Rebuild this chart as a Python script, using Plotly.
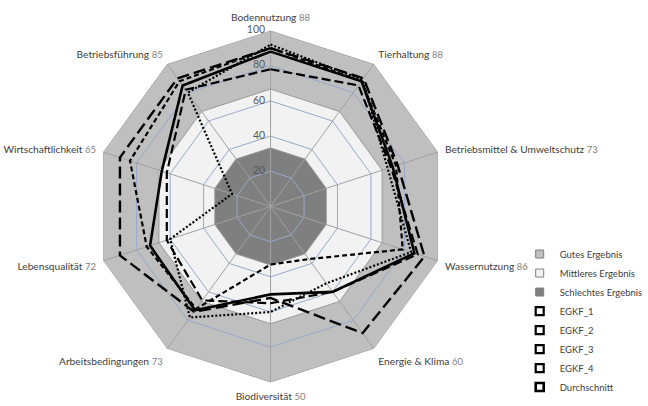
import plotly.graph_objects as go

categories = ["Bodennutzung", "Tierhaltung", "Betriebsmittel & Umweltschutz", "Wassernutzung",
              "Energie & Klima", "Biodiversität", "Arbeitsbedingungen", "Lebensqualität",
              "Wirtschaftlichkeit", "Betriebsführung"]
durchschnitt = [88, 88, 73, 86, 60, 50, 73, 72, 65, 85]
egkf_1 = [92, 89, 70, 84, 54, 60, 78, 60, 23, 80]
egkf_2 = [90, 88, 75, 79, 37, 33, 72, 74, 84, 88]
egkf_3 = [78, 85, 72, 88, 60, 55, 66, 62, 62, 82]
egkf_4 = [90, 90, 76, 92, 89, 52, 74, 90, 90, 90]

band_names = ["Gutes Ergebnis", "Mittleres Ergebnis", "Schlechtes Ergebnis"]
band_upper = [100, 66.7, 33.3]
band_colors = ["#bfbfbf", "#f2f2f2", "#7f7f7f"]
radial_ticks = [0, 20, 40, 60, 80, 100]

labels = [f"{c} <span style='color:#7f7f7f;font-size:9.5px'>{a}</span>"
          for c, a in zip(categories, durchschnitt)]
theta_closed = labels + labels[:1]

def closed(vals):
    return list(vals) + [vals[0]]

fig = go.Figure()

# Bands (plot), legend drawn with separate square keys
for name, up, col in zip(band_names, band_upper, band_colors):
    fig.add_trace(go.Scatterpolar(
        r=closed([up] * len(labels)), theta=theta_closed, mode="lines",
        fill="toself", fillcolor=col, line=dict(color="#999999", width=1),
        name=name, showlegend=False, hoverinfo="skip"))

# Blue grid rings
for t in radial_ticks[1:-1]:
    fig.add_trace(go.Scatterpolar(
        r=closed([t] * len(labels)), theta=theta_closed, mode="lines",
        line=dict(color="#97a9c9", width=1), showlegend=False, hoverinfo="skip"))

# Spokes
for lab in labels:
    fig.add_trace(go.Scatterpolar(
        r=[radial_ticks[0], radial_ticks[-1]], theta=[lab, lab], mode="lines",
        line=dict(color="#a0a0a0", width=1), showlegend=False, hoverinfo="skip"))

series = [
    ("EGKF_1", egkf_1, "2px,2px", 2.2),
    ("EGKF_2", egkf_2, "5px,3px", 2.2),
    ("EGKF_3", egkf_3, "9px,4px", 2.2),
    ("EGKF_4", egkf_4, "12px,5px", 2.4),
    ("Durchschnitt", durchschnitt, "solid", 2.6),
]
for name, vals, dash, w in series:
    fig.add_trace(go.Scatterpolar(
        r=closed(vals), theta=theta_closed, mode="lines", name=name,
        showlegend=False,
        line=dict(color="#000000", width=w, dash=dash)))

# Radial tick labels, left of the top axis
fig.add_trace(go.Scatterpolar(
    r=radial_ticks, theta=[labels[0]] * len(radial_ticks), mode="text",
    text=[str(t) + "\u00a0\u00a0" for t in radial_ticks], textposition="middle left",
    textfont=dict(size=10.5, color="#595959"), showlegend=False, hoverinfo="skip"))

# Legend keys (square symbols, as in the original)
for name, col in zip(band_names, band_colors):
    fig.add_trace(go.Scatterpolar(
        r=[None], theta=[labels[0]], mode="markers", name=name,
        marker=dict(symbol="square", size=8, color=col,
                    line=dict(color="#7f7f7f", width=1))))
for name, vals, dash, w in series:
    fig.add_trace(go.Scatterpolar(
        r=[None], theta=[labels[0]], mode="markers", name=name,
        marker=dict(symbol="square", size=8, color="white",
                    line=dict(color="#000000", width=2.2 if name != "Durchschnitt" else 2.6))))

fig.update_layout(
    width=648, height=406,
    margin=dict(l=0, r=0, t=0, b=0),
    paper_bgcolor="white",
    font=dict(family="Lato, 'Open Sans', sans-serif", size=11, color="#404040"),
    polar=dict(
        domain=dict(x=[0.146, 0.689], y=[0.058, 0.925]),
        bgcolor="rgba(0,0,0,0)",
        gridshape="linear",
        radialaxis=dict(range=[0, 100], tickvals=radial_ticks, showgrid=False,
                        showline=False, ticks="", showticklabels=False, angle=90),
        angularaxis=dict(direction="clockwise", rotation=90, type="category",
                         categoryorder="array", categoryarray=labels,
                         showgrid=False, showline=False, ticks="outside", ticklen=5,
                         tickcolor="rgba(0,0,0,0)",
                         tickfont=dict(size=10.2, color="#404040")),
    ),
    legend=dict(x=0.802, y=0.41, xanchor="left", yanchor="top",
                font=dict(size=9.5, color="#404040"), itemwidth=30,
                bgcolor="rgba(0,0,0,0)"),
)

fig.write_html("out.html", config={"displayModeBar": False},
               post_script="document.body.style.margin='0';document.body.style.padding='0';")
